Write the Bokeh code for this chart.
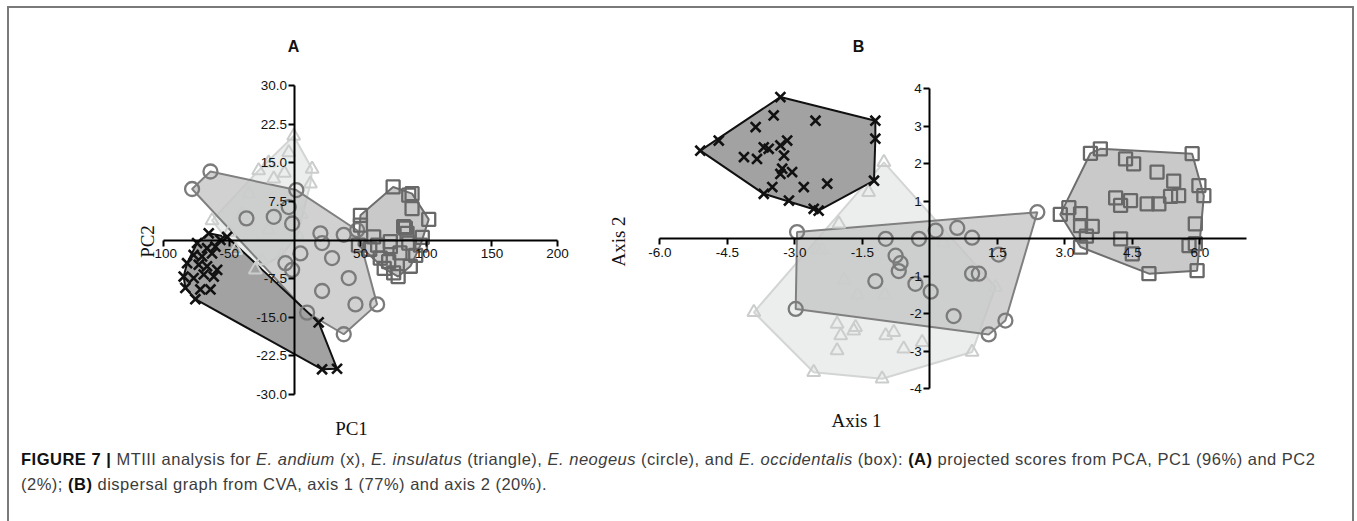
import numpy as np
from bokeh.plotting import figure
from bokeh.models import Range1d, LinearAxis, FixedTicker, PrintfTickFormatter, Label, Div
from bokeh.layouts import row, column
from bokeh.embed import file_html
from bokeh.resources import INLINE

# ---------------- Panel A : PCA scores ----------------
A_andium_x = [-65.6, -51.6, -56.7, -74.5, -66.9, -60.5, -77.1, -70.7, -63.1, -82.1, -73.2, -66.9,
              -59.2, -84.7, -77.1, -69.4, -61.8, -83.4, -72.0, -64.3, -75.8, 18.1, 20.7, 32.1]
A_andium_y = [1.3, 0.6, 0.0, -0.6, -1.6, -1.3, -2.9, -3.2, -2.6, -4.5, -4.8, -5.1,
              -5.8, -7.1, -7.4, -6.7, -7.1, -9.3, -9.6, -9.6, -11.5, -16.0, -25.1, -25.0]

A_insulatus_x = [-0.9, -4.7, 13.1, 11.8, -27.6, -16.1, -20.0, -8.0, -63.1, -30.1, -40.0, -20.0,
                 -10.0, -45.0, -25.0, 5.0, -12.0, 2.0, -50.0, -35.0]
A_insulatus_y = [20.2, 17.0, 13.8, 10.9, 13.5, 11.9, 15.0, 13.0, 3.8, -5.8, 5.0, 2.0,
                 -3.0, -2.0, -4.0, 5.0, 6.0, 1.0, 1.5, 9.0]

A_neogeus_x = [-64.3, -78.3, 1.1, -4.7, -16.1, -2.1, 19.4, 37.2, 47.4, 20.7, 4.2, -7.2, -2.1,
               28.3, 41.0, 20.7, 9.3, 46.1, 62.6, 37.2, -36.9]
A_neogeus_y = [13.3, 9.9, 9.7, 6.4, 4.5, 3.2, 1.3, 1.0, 1.9, -0.6, -2.6, -4.5, -5.8,
               -3.5, -7.4, -9.9, -14.1, -12.5, -12.5, -18.3, 4.2]

A_occidentalis_x = [74.8, 89.2, 89.2, 101.9, 84.1, 72.7, 86.7, 95.6, 71.4, 87.9, 75.2, 86.7, 49.9,
                    49.9, 60.0, 72.7, 82.8, 85.4, 48.4, 57.0, 65.0, 78.6, 68.0, 92.0, 80.0, 63.0, 97.0]
A_occidentalis_y = [10.3, 9.0, 6.1, 4.0, 2.3, -1.3, -0.6, -1.0, -4.2, -5.1, -6.4, 8.7, 4.8,
                    2.9, 0.6, -0.3, 2.6, 1.3, -1.0, -1.8, -3.5, -7.1, -5.5, -3.0, -2.5, -1.0, 0.5]

A_xticks = [-100, -50, 50, 100, 150, 200]
A_yticks = [-30.0, -22.5, -15.0, -7.5, 7.5, 15.0, 22.5, 30.0]

# ---------------- Panel B : CVA scores ----------------
B_andium_x = [-3.32, -1.21, -1.21, -1.24, -2.54, -3.47, -3.87, -4.69, -5.10, -4.13, -3.84, -3.69, -3.58,
              -3.32, -3.17, -3.24, -3.28, -3.06, -3.32, -2.80, -2.28, -3.50, -3.69, -3.13, -2.58, -2.47]
B_andium_y = [3.78, 3.15, 2.67, 1.55, 3.15, 3.29, 2.98, 2.62, 2.35, 2.18, 2.13, 2.44, 2.40,
              2.49, 2.62, 2.22, 1.87, 1.78, 1.73, 1.38, 1.47, 1.38, 1.20, 1.02, 0.80, 0.75]

B_insulatus_x = [-1.02, -1.36, -2.02, -3.91, -2.06, -1.65, -1.69, -1.98, -0.98, -0.80, -2.06, -0.58,
                 -0.17, 0.94, -2.58, -1.06, 1.46, -2.40, -1.90, -1.60, -1.00, -0.60, 0.30, -2.50]
B_insulatus_y = [2.04, 1.24, 0.40, -1.96, -2.27, -2.36, -2.45, -2.58, -2.58, -2.49, -2.98, -2.93,
                 -2.76, -3.02, -3.56, -3.73, -1.29, -0.30, -1.10, -1.50, -1.50, -0.60, -0.10, -0.30]

B_neogeus_x = [-2.95, 2.39, -2.98, 1.31, 1.68, -0.98, -0.24, 0.13, 0.61, 0.94, -0.76, -0.65, -0.69,
               -1.21, -0.32, 0.02, 0.94, 1.09, 1.53, 0.53]
B_neogeus_y = [0.18, 0.71, -1.87, -2.55, -2.18, 0.0, 0.0, 0.22, 0.29, 0.03, -0.45, -0.65, -0.86,
               -1.13, -1.20, -1.41, -0.93, -0.93, -0.42, -2.06]

B_occidentalis_x = [3.57, 3.79, 4.35, 4.53, 5.83, 5.05, 5.42, 5.98, 6.09, 5.53, 5.35, 5.09, 4.83, 4.46,
                    4.13, 4.24, 2.90, 3.09, 3.35, 3.35, 3.61, 3.48, 3.35, 4.24, 4.50, 4.87, 5.90, 5.90,
                    5.76, 5.94]
B_occidentalis_y = [2.28, 2.40, 2.13, 2.00, 2.27, 1.78, 1.54, 1.42, 1.15, 1.15, 1.13, 0.93, 0.93, 1.02,
                    1.09, 0.89, 0.65, 0.83, 0.67, 0.35, 0.33, 0.07, -0.22, 0.00, -0.40, -0.93, 0.40, -0.13,
                    -0.18, -0.85]

B_xticks = [-6.0, -4.5, -3.0, -1.5, 1.5, 3.0, 4.5, 6.0]
B_yticks = [-4, -3, -2, -1, 1, 2, 3, 4]

CAPTION = ('<b style="color:#111">FIGURE 7 |</b> MTIII analysis for <i>E. andium</i> (x), '
           '<i>E. insulatus</i> (triangle), <i>E. neogeus</i> (circle), and <i>E. occidentalis</i> (box): '
           '<b style="color:#111">(A)</b> projected scores from PCA, PC1 (96%) and PC2<br>'
           '(2%); <b style="color:#111">(B)</b> dispersal graph from CVA, axis 1 (77%) and axis 2 (20%).')


def convex_hull(xs, ys):
    pts = sorted(set(zip(xs, ys)))

    def cross(o, a, b):
        return (a[0] - o[0]) * (b[1] - o[1]) - (a[1] - o[1]) * (b[0] - o[0])

    lower = []
    for p in pts:
        while len(lower) >= 2 and cross(lower[-2], lower[-1], p) <= 0:
            lower.pop()
        lower.append(p)
    upper = []
    for p in reversed(pts):
        while len(upper) >= 2 and cross(upper[-2], upper[-1], p) <= 0:
            upper.pop()
        upper.append(p)
    h = lower[:-1] + upper[:-1]
    return [q[0] for q in h], [q[1] for q in h]


# group styles: (hull fill, hull fill alpha, hull line, marker, marker colour, size, width)
STY = {
    "insulatus": ("#eceeee", 1.0, "#d3d5d5", "triangle", "#cbcdcd", 13, 2.0),
    "neogeus": ("#c6c6c6", 0.8, "#808080", "circle", "#7b7b7b", 14, 2.3),
    "occidentalis": ("#c9c9c9", 1.0, "#6e6e6e", "square", "#686868", 13, 2.3),
    "andium": ("#a2a2a2", 1.0, "#111111", "x", "#111111", 14, 2.6),
}

# page geometry (the html body has no margin; the framed block starts at (7, 6) with a 2px border)
X0, Y0 = 9, 8          # page px where the panels start (inside the border)
FIG_H = 432
WA, WB = 591, 752


def make_panel(left, width, origin, scale, groups, xb, yb, xt, yt, xfmt, yfmt):
    ox, oy = origin
    sx, sy = scale
    xr = Range1d((left - ox) / sx, (left + width - ox) / sx)
    yr = Range1d((oy - (Y0 + FIG_H)) / sy, (oy - Y0) / sy)
    p = figure(width=width, height=FIG_H, x_range=xr, y_range=yr, x_axis_type=None, y_axis_type=None,
               output_backend="svg", toolbar_location=None, min_border=0,
               outline_line_color=None, background_fill_color="white", border_fill_color="white")
    p.grid.visible = False
    for name in ["insulatus", "neogeus", "occidentalis", "andium"]:
        gx, gy = groups[name]
        hx, hy = convex_hull(gx, gy)
        fc, fa, lc, mk, mc, ms, mw = STY[name]
        p.patch(hx, hy, fill_color=fc, fill_alpha=fa, line_color=lc, line_width=2.0)
    for name in ["insulatus", "neogeus", "occidentalis", "andium"]:
        gx, gy = groups[name]
        fc, fa, lc, mk, mc, ms, mw = STY[name]
        p.scatter(gx, gy, marker=mk, size=ms, line_color=mc, line_width=mw, fill_color=None)
    common = dict(fixed_location=0, axis_line_width=2, axis_line_color="black",
                  major_tick_line_width=2, major_tick_line_color="black",
                  major_tick_out=6, major_tick_in=0, minor_tick_line_color=None,
                  major_label_text_font="Liberation Sans", major_label_text_font_size="13.5px",
                  major_label_text_color="#111111")
    xa = LinearAxis(bounds=xb, ticker=FixedTicker(ticks=xt, minor_ticks=[]),
                    formatter=PrintfTickFormatter(format=xfmt), major_label_standoff=3, **common)
    ya = LinearAxis(bounds=yb, ticker=FixedTicker(ticks=yt, minor_ticks=[]),
                    formatter=PrintfTickFormatter(format=yfmt), major_label_standoff=2, **common)
    p.add_layout(xa, "below")
    p.add_layout(ya, "left")

    def to_data(px, py):
        return (px - ox) / sx, (oy - py) / sy
    return p, to_data


pA, tA = make_panel(X0, WA, (294.4, 239.5), (1.3133, 5.15),
                    {"andium": (A_andium_x, A_andium_y), "insulatus": (A_insulatus_x, A_insulatus_y),
                     "neogeus": (A_neogeus_x, A_neogeus_y), "occidentalis": (A_occidentalis_x, A_occidentalis_y)},
                    (-100, 200), (-30, 30), A_xticks, A_yticks, "%d", "%.1f")
pB, tB = make_panel(X0 + WA, WB, (929.3, 238.3), (45.0, 37.5),
                    {"andium": (B_andium_x, B_andium_y), "insulatus": (B_insulatus_x, B_insulatus_y),
                     "neogeus": (B_neogeus_x, B_neogeus_y), "occidentalis": (B_occidentalis_x, B_occidentalis_y)},
                    (-6, 7.04), (-4, 4), B_xticks, B_yticks, "%.1f", "%d")


def add_text(p, conv, px, py, text, font, size, bold=False, angle=0.0):
    x, y = conv(px, py)
    p.add_layout(Label(x=x, y=y, text=text, text_font=font, text_font_size=size,
                       text_font_style="bold" if bold else "normal", text_color="#111111",
                       text_align="center", text_baseline="middle", angle=angle))


add_text(pA, tA, 293, 46, "A", "Liberation Sans", "16px", bold=True)
add_text(pB, tB, 858, 46, "B", "Liberation Sans", "16px", bold=True)
add_text(pA, tA, 147, 241, "PC2", "Liberation Serif", "19px", angle=np.pi / 2)
add_text(pA, tA, 351, 428, "PC1", "Liberation Serif", "19px")
add_text(pB, tB, 618, 241, "Axis 2", "Liberation Serif", "19px", angle=np.pi / 2)
add_text(pB, tB, 856, 420, "Axis 1", "Liberation Serif", "19px")

cap = Div(text=CAPTION, width=WA + WB, height=81, margin=0,
          styles={"font-family": "'Liberation Sans', Arial, sans-serif", "font-size": "16.5px",
                  "letter-spacing": "0.5px", "line-height": "25px", "color": "#3c3c3c",
                  "padding-left": "12px", "padding-top": "7px", "white-space": "nowrap",
                  "box-sizing": "border-box"})

layout = column(row(pA, pB), cap,
                styles={"border-top": "2px solid #7a7a7a", "border-left": "2px solid #7a7a7a",
                        "border-right": "2px solid #7a7a7a", "margin-left": "7px", "margin-top": "6px"})

open("out.html", "w").write(file_html(layout, INLINE))
